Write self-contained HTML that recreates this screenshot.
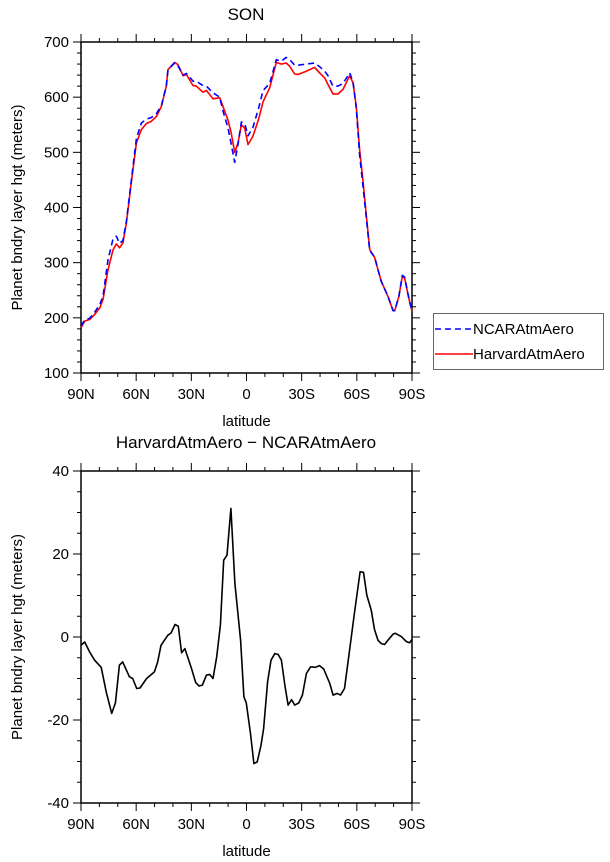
<!DOCTYPE html>
<html><head><meta charset="utf-8"><style>
html,body{margin:0;padding:0;background:#fff}
svg{display:block;font-family:"Liberation Sans",sans-serif}
</style></head><body>
<svg id="c" width="610" height="862" xmlns="http://www.w3.org/2000/svg"></svg>
<script>
const lats=[90,88,85.3,82.6,79.8,78,75.3,72.6,70.8,69,67.2,65.3,62.6,59.9,57.2,54.5,51.8,49,46.3,43.6,42.7,39.1,37.3,34.5,32.7,29.1,27.3,23.7,21.8,18.2,14.6,12.8,10.1,8.3,6.4,4.6,2.8,1,-0.8,-3.5,-6.6,-9,-12.6,-16.2,-18.9,-21.6,-23.5,-26.2,-28,-32.5,-37.1,-39.8,-42.5,-44.3,-47,-49.8,-52.5,-56.1,-57.9,-59.7,-61.5,-63.3,-65.2,-67,-69.7,-71.5,-73.3,-76.9,-79.7,-80.6,-82.9,-84.7,-86,-88.4,-90];
const harvard=[182,194,197,206,218,234,287,323,334,327,336,372,447,517,541,552,556,565,583,620,650,663,659,639,641,621,620,609,612,597,599,583,559,535,500,517,550,544,514,529,560,592,617,663,660,662,656,642,641,647,654,644,635,623,606,606,614,639,626,583,505,450,384,324,309,287,266,239,213,213,239,275,272,233,212];
const ncar=[185,196,199,210,224,240,305,343,348,335,340,375,450,525,553,560,563,570,585,620,650,662,657,640,643,629,629,621,620,608,600,575,545,515,482,515,555,552,530,545,580,612,625,668,665,672,668,658,658,660,662,655,647,639,620,620,625,644,628,580,495,440,380,322,310,287,266,239,213,213,239,277,274,233,212];
const dLats=[90,88,85.3,82.6,79,76.3,73.3,71.3,69.1,67.3,63.7,61.9,59.7,57.9,54.3,50.1,48.3,46.5,42.8,41,38.9,37.1,35.3,33.5,29.9,27.6,25.8,24,21.8,20,18.2,16.2,14.2,12.4,10.6,8.5,6.3,3.2,1.4,0.1,-2.2,-4,-5.8,-7.9,-9.3,-11.5,-13.3,-15.4,-17.2,-19,-21,-22.6,-24.5,-26.2,-28.4,-30.4,-32.6,-34.8,-35.7,-37.5,-39.7,-42,-45.3,-47.1,-49.3,-51.1,-53.3,-55.6,-58.7,-61.8,-63.6,-65.4,-67.8,-69.6,-71.5,-73.3,-75.1,-76.9,-79.7,-80.9,-84.2,-86.9,-88.7,-90];
const diff=[-2,-1.2,-3.6,-5.6,-7.3,-13.2,-18.4,-15.9,-6.8,-6,-9.6,-10,-12.4,-12.3,-10,-8.4,-6,-2,0.4,1,3,2.6,-3.8,-2.8,-7.6,-11,-11.8,-11.6,-9.2,-9,-10,-4.8,2.9,18.5,19.7,31,12.9,-0.8,-14.4,-15.9,-23.3,-30.5,-30.1,-26.1,-22.1,-10.8,-5.6,-4,-4.2,-5.6,-12,-16.4,-15.1,-16.4,-15.9,-14,-8.8,-7.2,-7.2,-7.3,-6.9,-7.7,-11.2,-14,-13.6,-14,-12.4,-4.8,5.7,15.7,15.6,10.1,6.5,1.8,-0.8,-1.6,-1.8,-0.8,0.7,0.9,0.1,-1.1,-1.4,-0.6];
const xTicks=[90,60,30,0,-30,-60,-90];
const xTickLabels=["90N","60N","30N","0","30S","60S","90S"];
const topYTicks=[100,200,300,400,500,600,700];
const botYTicks=[-40,-20,0,20,40];

const NS="http://www.w3.org/2000/svg";
const svg=document.getElementById('c');
function mk(tag,attrs,parent){const e=document.createElementNS(NS,tag);for(const k in attrs)e.setAttribute(k,attrs[k]);(parent||svg).appendChild(e);return e;}
const X0=81,X1=412;
const xs=lat=>X0+(90-lat)/180*(X1-X0);

function panel(name,yT,yB,vmin,vmax,yTicks,minorStep,ytitleY){
  const ys=v=>yB-(v-vmin)/(vmax-vmin)*(yB-yT);
  const g=mk('g',{});
  
  
  const fr=mk('rect',{x:X0,y:yT,width:X1-X0,height:yB-yT,fill:'none',stroke:'#000','stroke-width':1.5},g);
  
  
  // minor x ticks
  for(let l=90;l>=-90;l-=10){const x=xs(l);const major=(l%30===0);const L=major?8:4;
    mk('line',{x1:x,x2:x,y1:yB,y2:yB+L,stroke:'#000','stroke-width':1},g);
    mk('line',{x1:x,x2:x,y1:yT,y2:yT-L,stroke:'#000','stroke-width':1},g);}
  for(let v=vmin;v<=vmax+1e-6;v+=minorStep){const y=ys(v);const major=yTicks.includes(v);const L=major?8:4;
    mk('line',{x1:X0,x2:X0-L,y1:y,y2:y,stroke:'#000','stroke-width':1},g);
    mk('line',{x1:X1,x2:X1+L,y1:y,y2:y,stroke:'#000','stroke-width':1},g);}
  yTicks.forEach(v=>{const t=mk('text',{x:X0-12,y:ys(v)+5,'text-anchor':'end','font-size':15},g);t.textContent=v;
    
    });
  xTicks.forEach((l,i)=>{const t=mk('text',{x:xs(l),y:yB+26,'text-anchor':'middle','font-size':15},g);t.textContent=xTickLabels[i];
    
    });
  const xt=mk('text',{x:(X0+X1)/2,y:yB+53,'text-anchor':'middle','font-size':15},g);xt.textContent='latitude';
  
  
  const yc=(yT+yB)/2;
  const yt=mk('text',{x:22,y:yc,'text-anchor':'middle','font-size':15,transform:`rotate(-90 22 ${yc})`},g);yt.textContent='Planet bndry layer hgt (meters)';
  
  
  return ys;
}
const ysT=panel('top',42,373,100,700,topYTicks,20);
const ysB=panel('bottom',471,803,-40,40,botYTicks,5);

function line(la,va,ys,stroke,dash,name){
  const d=la.map((l,i)=>(i?'L':'M')+xs(l).toFixed(1)+','+ys(va[i]).toFixed(1)).join('');
  const p=mk('path',{d:d,fill:'none',stroke:stroke,'stroke-width':1.6,'stroke-dasharray':dash||'none','stroke-linejoin':'round'});
  
  
}
line(lats,harvard,ysT,'#f00',null,'harvard-line');
line(lats,ncar,ysT,'#00f','6,4','ncar-line');
line(dLats,diff,ysB,'#000',null,'difference-line');

const t1=mk('text',{x:246,y:20,'text-anchor':'middle','font-size':17});t1.textContent='SON';


const t2=mk('text',{x:246,y:448,'text-anchor':'middle','font-size':17});t2.textContent='HarvardAtmAero \u2212 NCARAtmAero';



const lg=mk('g',{});


mk('rect',{x:433.5,y:313.5,width:170,height:56,fill:'#fff',stroke:'#666','stroke-width':1},lg);
mk('line',{x1:435,x2:473,y1:329,y2:329,stroke:'#00f','stroke-width':1.5,'stroke-dasharray':'6,4'},lg);
mk('line',{x1:435,x2:473,y1:354,y2:354,stroke:'#f00','stroke-width':1.5},lg);
const l1=mk('text',{x:473,y:334,'font-size':15},lg);l1.textContent='NCARAtmAero';


const l2=mk('text',{x:473,y:359,'font-size':15},lg);l2.textContent='HarvardAtmAero';


</script>
</body></html>
